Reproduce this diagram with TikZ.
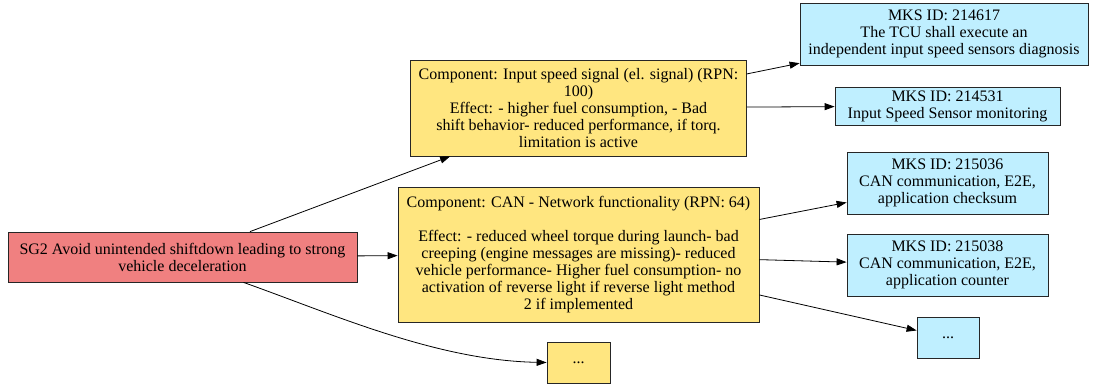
\documentclass[tikz,border=0pt]{standalone}
\usepackage{fontspec}
\setmainfont{Liberation Serif}
\usetikzlibrary{arrows.meta}
\definecolor{goalred}{HTML}{F08080}
\definecolor{compyellow}{HTML}{FFE680}
\definecolor{reqblue}{HTML}{BFEFFF}
\begin{document}
\begin{tikzpicture}[x=1pt,y=1pt,
  box/.style={draw=black!85, line width=0.8pt, rectangle, align=center,
    inner sep=0pt, font=\fontsize{16}{17}\selectfont},
  goal/.style={box, fill=goalred},
  comp/.style={box, fill=compyellow},
  req/.style={box, fill=reqblue},
  link/.style={line width=0.8pt, -{Triangle[length=10pt,width=7pt]}}]
\useasboundingbox (0,0) rectangle (1094,-385);

% safety goal
\node[goal, minimum width=349pt, minimum height=50pt] (sg2) at (182.5,-257)
  {SG2 Avoid unintended shiftdown leading to strong\\vehicle deceleration};

% components
\node[comp, minimum width=336pt, minimum height=96pt] (c1) at (578.5,-108)
  {Component: Input speed signal (el. signal) (RPN:\\100)\\
   Effect: - higher fuel consumption, - Bad\\
   shift behavior- reduced performance, if torq.\\limitation is active};
\node[comp, minimum width=361pt, minimum height=135pt] (c2) at (578.5,-254.5)
  {Component: CAN - Network functionality (RPN: 64)\\[17pt]
   Effect: - reduced wheel torque during launch- bad\\
   creeping (engine messages are missing)- reduced\\
   vehicle performance- Higher fuel consumption- no\\
   activation of reverse light if reverse light method\\2 if implemented};
\node[comp, minimum width=63pt, minimum height=41pt] (c3) at (578.5,-362.5) {...};

% requirements
\node[req, minimum width=288pt, minimum height=62pt] (m1) at (944,-34)
  {MKS ID: 214617\\The TCU shall execute an\\independent input speed sensors diagnosis};
\node[req, minimum width=225pt, minimum height=38pt] (m2) at (947.5,-106)
  {MKS ID: 214531\\Input Speed Sensor monitoring};
\node[req, minimum width=201pt, minimum height=62pt] (m3) at (947.5,-183)
  {MKS ID: 215036\\CAN communication, E2E,\\application checksum};
\node[req, minimum width=201pt, minimum height=62pt] (m4) at (947.5,-265)
  {MKS ID: 215038\\CAN communication, E2E,\\application counter};
\node[req, minimum width=62pt, minimum height=41pt] (m5) at (948,-337.5) {...};

% connectors
\draw[link] (sg2) -- (c1);
\draw[link] (sg2) -- (c2);
\draw[link] ([xshift=61pt]sg2.south) .. controls +(90,-32) and +(-110,2) .. (c3.west);
\draw[link] (c1) -- (m1);
\draw[link] (c1) -- (m2);
\draw[link] (c2) -- (m3);
\draw[link] (c2) -- (m4);
\draw[link] (c2) -- (m5);
\end{tikzpicture}
\end{document}
